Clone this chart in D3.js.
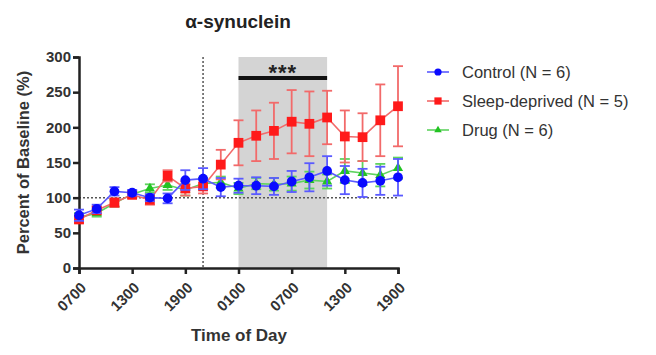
<!DOCTYPE html>
<html><head><meta charset="utf-8">
<script src="https://cdn.jsdelivr.net/npm/d3@7"></script>
<style>body{margin:0;background:#fff}svg{display:block;font-family:"Liberation Sans",Arial,sans-serif}</style>
</head><body><svg id="c" width="656" height="355"></svg>
<script>
const hours = [0,2,4,6,8,10,12,14,16,18,20,22,24,26,28,30,32,34,36];
const tickHours = [0,6,12,18,24,30,36];
const tickLabels = ["0700","1300","1900","0100","0700","1300","1900"];
const yTicks = [0,50,100,150,200,250,300];
const control = [75,84,109,107,100,99,125,127,115,117,117,116,123,129,138,125,121,124,129];
const controlErr = [8,6,6,4,5,7,14,15,13,10,12,12,15,20,21,20,20,20,26];
const sleep = [69,82,93,104,97,131,113,116,147,178,188,195,208,205,214,187,186,210,230];
const sleepErr = [5,5,6,4,7,8,10,10,21,32,36,40,45,46,38,37,34,51,57];
const drug = [72,78,92,105,113,118,111,120,122,113,120,119,120,125,123,138,135,132,142];
const drugErr = [6,5,5,4,6,7,8,8,8,8,8,9,10,12,10,17,17,16,15];
const seriesNames = ["Control (N = 6)","Sleep-deprived (N = 5)","Drug (N = 6)"];
const shadeRange = [18,28];
const markerHour = 14;
const baseline = 100;

const svg = d3.select("#c");
const x = d3.scaleLinear().domain([0,36]).range([79,398]);
const y = d3.scaleLinear().domain([0,300]).range([268,57]);

svg.append("rect").attr("x",x(shadeRange[0])).attr("y",y(300))
  .attr("width",x(shadeRange[1])-x(shadeRange[0])).attr("height",y(0)-y(300))
  .attr("fill","#d4d4d4");
svg.append("line").attr("x1",x(shadeRange[0])).attr("x2",x(shadeRange[1]))
  .attr("y1",y(270)).attr("y2",y(270)).attr("stroke","#111").attr("stroke-width",4);
svg.append("text").attr("x",(x(shadeRange[0])+x(shadeRange[1]))/2).attr("y",y(270)+2)
  .attr("text-anchor","middle").attr("font-size",22).attr("font-weight","bold").attr("fill","#222")
  .attr("letter-spacing",1).text("***");
svg.append("line").attr("x1",x(markerHour)).attr("x2",x(markerHour)).attr("y1",y(300)).attr("y2",y(0))
  .attr("stroke","#555").attr("stroke-width",1.5).attr("stroke-dasharray","2,2");
svg.append("line").attr("x1",x(0)).attr("x2",x(36)).attr("y1",y(baseline)).attr("y2",y(baseline))
  .attr("stroke","#555").attr("stroke-width",1.5).attr("stroke-dasharray","2,2");

const yAxis = svg.append("g").attr("transform",`translate(${x(0)},0)`)
  .call(d3.axisLeft(y).tickValues(yTicks).tickSize(6).tickPadding(2));
const xAxis = svg.append("g").attr("transform",`translate(0,${y(0)})`)
  .call(d3.axisBottom(x).tickValues(tickHours).tickFormat((d,i)=>tickLabels[i]).tickSize(6));
[yAxis,xAxis].forEach(a=>{
  a.select(".domain").attr("stroke","#222").attr("stroke-width",2.5);
  a.selectAll(".tick line").attr("stroke","#222").attr("stroke-width",2.5);
  a.selectAll("text").attr("font-size",15).attr("font-weight","bold").attr("fill","#333")
    .attr("font-family","Liberation Sans, Arial, sans-serif");
});
xAxis.selectAll(".tick text").attr("text-anchor","end").attr("dy","0.35em")
  .attr("transform","translate(4,17) rotate(-45)").attr("y",0).attr("x",0);

svg.append("text").attr("transform",`translate(29,${(y(0)+y(300))/2}) rotate(-90)`)
  .attr("text-anchor","middle").attr("font-size",16.5).attr("font-weight","bold").attr("fill","#333")
  .text("Percent of Baseline (%)");
svg.append("text").attr("x",239).attr("y",341).attr("text-anchor","middle")
  .attr("font-size",17).attr("font-weight","bold").attr("fill","#333").text("Time of Day");
svg.append("text").attr("x",238).attr("y",28).attr("text-anchor","middle")
  .attr("font-size",19).attr("font-weight","bold").attr("fill","#222").text("α-synuclein");

const series = [
  {name:seriesNames[2], v:drug, e:drugErr, color:"#22c322", line:"#5fd35f", shape:d3.symbolTriangle, size:45},
  {name:seriesNames[1], v:sleep, e:sleepErr, color:"#ff1a1a", line:"#f26a6a", shape:d3.symbolSquare, size:95},
  {name:seriesNames[0], v:control, e:controlErr, color:"#0a0aff", line:"#5a5aff", shape:d3.symbolCircle, size:75}
];
const line = d3.line().x((d,i)=>x(hours[i])).y(d=>y(d));
series.forEach(s=>{
  const g = svg.append("g");
  hours.forEach((h,i)=>{
    const xx = x(h), t = y(s.v[i]+s.e[i]), b = y(s.v[i]-s.e[i]);
    g.append("line").attr("x1",xx).attr("x2",xx).attr("y1",t).attr("y2",b).attr("stroke",s.line).attr("stroke-width",1.8);
    [t,b].forEach(yy=>g.append("line").attr("x1",xx-5).attr("x2",xx+5).attr("y1",yy).attr("y2",yy).attr("stroke",s.line).attr("stroke-width",1.8));
  });
  g.append("path").attr("d",line(s.v)).attr("fill","none").attr("stroke",s.line).attr("stroke-width",1.6);
  g.selectAll("path.m").data(s.v).join("path").attr("class","m")
    .attr("transform",(d,i)=>`translate(${x(hours[i])},${y(d)})`)
    .attr("d",d3.symbol().type(s.shape).size(s.size)).attr("fill",s.color);
});

const legOrder = [series[2],series[1],series[0]];
legOrder.forEach((s,i)=>{
  const yy = 72 + i*29;
  svg.append("line").attr("x1",427).attr("x2",449).attr("y1",yy).attr("y2",yy).attr("stroke",s.line).attr("stroke-width",1.6);
  svg.append("path").attr("transform",`translate(438,${yy})`).attr("d",d3.symbol().type(s.shape).size(s.size*0.55)).attr("fill",s.color);
  svg.append("text").attr("x",462).attr("y",yy+6).attr("font-size",16.5).attr("fill","#333").text(s.name);
});
</script></body></html>
